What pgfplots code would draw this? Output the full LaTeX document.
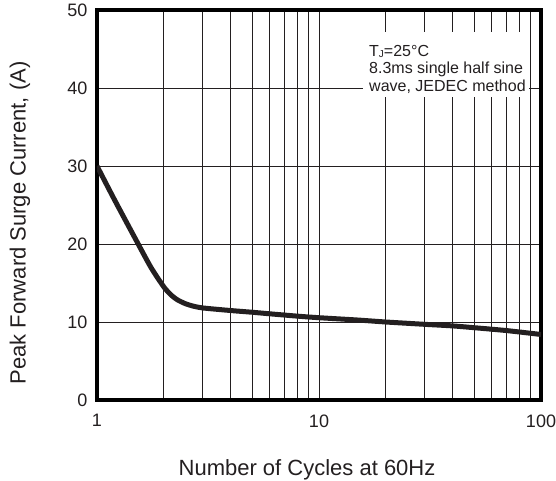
\documentclass[border=0pt]{standalone}
\usepackage{fontspec}
\setmainfont{Liberation Sans}
\usepackage{pgfplots}
\pgfplotsset{compat=1.18}
\definecolor{ink}{HTML}{231F20}
\begin{document}
\begin{tikzpicture}
\useasboundingbox (-97bp,-81bp) rectangle (459bp,400bp);
\begin{axis}[
  scale only axis, width=444bp, height=390bp,
  xmode=log, xmin=1, xmax=100, ymin=0, ymax=50,
  xtick={1,10,100}, xticklabels={1,10,100},
  minor xtick={2,3,4,5,6,7,8,9,20,30,40,50,60,70,80,90},
  ytick={0,10,20,30,40,50},
  xmajorgrids, xminorgrids, ymajorgrids,
  major tick length=0pt, minor tick length=0pt,
  grid style={draw=ink, line width=0.9bp},
  minor grid style={draw=ink, line width=0.9bp},
  axis line style={line width=4bp, black},
  tick label style={font=\fontsize{18bp}{20bp}\selectfont, text=ink},
  /pgf/number format/assume math mode=true,
  xticklabel style={yshift=-11bp},
  yticklabel style={xshift=-6bp},
  xlabel={Number of Cycles at 60Hz},
  ylabel={Peak Forward Surge Current, (A)},
  every axis x label/.style={at={(rel axis cs:0.473,0)}, anchor=base, yshift=-75bp, font=\fontsize{22bp}{24bp}\selectfont, text=ink},
  every axis y label/.style={at={(rel axis cs:0,0.454)}, anchor=center, xshift=-77bp, rotate=90, font=\fontsize{22bp}{24bp}\selectfont, text=ink},
]
\addplot[ink, line width=5bp, smooth, tension=0.4] coordinates {
  (1,30) (1.2,25.65) (1.5,20.5) (1.75,17.0) (2,14.5) (2.15,13.5) (2.3,12.85)
  (2.5,12.35) (2.7,12.05) (3,11.8) (4,11.47) (5,11.25) (6,11.05) (8,10.75)
  (10,10.55) (15,10.25) (20,10.0) (30,9.7) (40,9.5) (50,9.27) (70,8.9) (100,8.4)
};
\fill[white] ([xshift=266bp,yshift=-22bp]rel axis cs:0,1) rectangle ([xshift=432bp,yshift=-87bp]rel axis cs:0,1);
\node[anchor=north west, inner sep=0pt, align=left, font=\fontsize{16bp}{17.5bp}\selectfont, text=ink] at ([xshift=272bp,yshift=-35bp]rel axis cs:0,1) {T\raisebox{-1bp}{\fontsize{10bp}{10bp}\selectfont J}=25°C\\8.3ms single half sine\\wave, JEDEC method};
\end{axis}
\end{tikzpicture}
\end{document}
